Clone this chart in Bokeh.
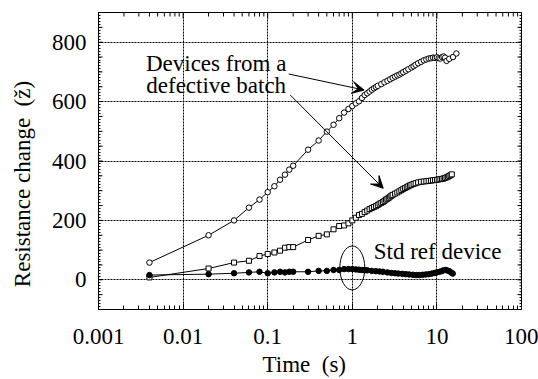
import math
from bokeh.plotting import figure
from bokeh.models import (FixedTicker, Label, Arrow, VeeHead, Range1d, CustomJSTickFormatter)
from bokeh.embed import file_html
from bokeh.resources import INLINE

# ---------------- data ----------------
# Devices from a defective batch: open circles
t_a = [0.004, 0.02, 0.04, 0.06, 0.08, 0.1, 0.12, 0.14, 0.16, 0.18, 0.2, 0.3, 0.4, 0.5,
       0.6, 0.7, 0.8, 0.9, 1.0, 1.1, 1.2, 1.3, 1.4, 1.5, 1.6, 1.7, 1.8, 1.9, 2.0, 2.2,
       2.4, 2.6, 2.8, 3.0, 3.2, 3.4, 3.6, 3.8, 4.0, 4.3, 4.6, 5.0, 5.3, 5.6, 6.0, 6.5,
       7.0, 7.5, 8.0, 8.5, 9.0, 9.5, 10, 10.5, 11, 11.5, 12, 12.5, 13, 14, 15.5, 17]
r_a = [58, 150, 200, 243, 270, 295, 315, 337, 354, 371, 384, 438, 469, 499,
       522, 544, 563, 575, 585, 594, 601, 612, 622, 628, 634, 640, 645, 649, 653, 659,
       665, 670, 675, 680, 684, 688, 691, 695, 699, 704, 709, 715, 719, 724, 729, 734,
       739, 742, 745, 746, 748, 747, 749, 746, 745, 750, 752, 748, 737, 744, 750, 762]

# Devices from a defective batch: open squares
t_b = [0.004, 0.02, 0.04, 0.06, 0.08, 0.1, 0.12, 0.14, 0.16, 0.18, 0.2, 0.3, 0.4, 0.5,
       0.6, 0.7, 0.8, 0.9, 1.0, 1.1, 1.2, 1.3, 1.4, 1.5, 1.6, 1.7, 1.8, 1.9, 2.0, 2.1,
       2.2, 2.3, 2.4, 2.5, 2.6, 2.7, 2.8, 2.9, 3.0, 3.2, 3.4, 3.6, 3.8, 4.0, 4.2, 4.4,
       4.6, 4.8, 5.0, 5.3, 5.6, 6.0, 6.5, 7.0, 7.5, 8.0, 8.5, 9.0, 9.5, 10, 10.5, 11,
       11.5, 12, 12.5, 13, 13.5, 14, 14.5, 15]
r_b = [8, 38, 58, 64, 80, 87, 92, 98, 108, 110, 110, 134, 148, 153,
       170, 181, 183, 190, 200, 209, 218, 222, 228, 233, 238, 242, 245, 248, 252, 256,
       259, 262, 266, 270, 273, 276, 280, 283, 286, 290, 294, 298, 302, 306, 309, 312,
       315, 318, 320, 323, 325, 328, 330, 331, 332, 333, 334, 335, 336, 337, 338, 339,
       340, 341, 343, 345, 347, 350, 352, 355]

# Std ref device: filled circles
t_c = [0.004, 0.02, 0.04, 0.06, 0.08, 0.1, 0.12, 0.14, 0.16, 0.18, 0.2, 0.3, 0.4, 0.5,
       0.6, 0.7, 0.8, 0.9, 1.0, 1.1, 1.2, 1.3, 1.4, 1.5, 1.7, 1.9, 2.1, 2.3, 2.6, 2.9,
       3.2, 3.5, 3.9, 4.3, 4.7, 5.2, 5.7, 6.2, 6.8, 7.4, 8.0, 8.7, 9.4, 10, 10.7, 11.4,
       12, 12.7, 13.4, 14, 14.7, 15.4]
r_c = [16, 19, 22, 25, 27, 22, 25, 27, 25, 27, 27, 27, 30, 30,
       33, 33, 36, 36, 36, 35, 34, 33, 32, 32, 30, 29, 28, 27, 25, 23,
       22, 21, 20, 19, 18, 17, 16, 16, 17, 18, 19, 21, 23, 25, 27, 29,
       32, 33, 31, 29, 25, 21]

x_major = [0.001, 0.01, 0.1, 1, 10, 100]
y_major = [0, 200, 400, 600, 800]
X0, X1, Y0, Y1 = 0.001, 100, -100, 900

FONT = "Liberation Serif"
FS = "23px"

p = figure(width=538, height=379, x_axis_type="log",
           x_range=Range1d(X0, X1), y_range=Range1d(Y0, Y1),
           output_backend="svg", toolbar_location=None,
           min_border_left=98, min_border_right=17, min_border_top=12, min_border_bottom=70)
p.background_fill_color = "white"
p.border_fill_color = "white"
p.outline_line_color = "black"
p.outline_line_width = 1

x_minor = [k * d for d in x_major[:-1] for k in range(2, 10)]
y_mid = list(range(Y0, Y1 + 1, 50))
y_minor = list(range(Y0, Y1 + 1, 10))

xt = FixedTicker(ticks=x_major, minor_ticks=x_minor)
yt = FixedTicker(ticks=y_major, minor_ticks=y_minor)


def style(ax):
    ax.axis_line_color = "black"
    ax.axis_line_width = 1
    ax.major_tick_line_color = "black"
    ax.minor_tick_line_color = "black"
    ax.major_tick_out = 0
    ax.minor_tick_out = 0
    ax.major_label_text_font = FONT
    ax.major_label_text_color = "black"
    ax.major_label_text_font_size = FS
    ax.axis_label_text_font = FONT
    ax.axis_label_text_font_style = "normal"
    ax.axis_label_text_color = "black"
    ax.axis_label_text_font_size = FS


xa = p.xaxis[0]
xa.ticker = xt
xa.formatter = CustomJSTickFormatter(code="return tick.toString();")
style(xa)
xa.major_tick_in = 6
xa.minor_tick_in = 4
xa.major_label_standoff = 19
xa.axis_label = "Time\u00a0\u00a0(s)\u00a0\u00a0"
xa.axis_label_standoff = 5

ya = p.yaxis[0]
ya.ticker = yt
style(ya)
ya.major_tick_in = 4
ya.minor_tick_in = 2
ya.major_label_standoff = 12
ya.axis_label = "Resistance change\u00a0\u00a0(\u017e)" + "\u00a0" * 8
ya.axis_label_standoff = 14

p.xgrid.ticker = FixedTicker(ticks=x_major)
p.ygrid.ticker = FixedTicker(ticks=y_major)
for g in (p.xgrid[0], p.ygrid[0]):
    g.grid_line_color = "black"
    g.grid_line_alpha = 1
    g.grid_line_width = 1
    g.grid_line_dash = "2 1"

# inner tick marks on the frame (mid ticks left/right, minor right, top ticks)
tick_kw = dict(length_units="screen", line_color="black", line_width=1)
p.ray(x=[X0] * len(y_mid), y=y_mid, length=4, angle=0, **tick_kw)
p.ray(x=[X1] * len(y_mid), y=y_mid, length=4, angle=math.pi, **tick_kw)
p.ray(x=[X1] * len(y_minor), y=y_minor, length=2, angle=math.pi, **tick_kw)
p.ray(x=x_major, y=[Y1] * len(x_major), length=6, angle=-math.pi / 2, **tick_kw)
p.ray(x=x_minor, y=[Y1] * len(x_minor), length=4, angle=-math.pi / 2, **tick_kw)

# series
p.line(t_a, r_a, line_color="black", line_width=1)
p.line(t_b, r_b, line_color="black", line_width=1)
p.line(t_c, r_c, line_color="black", line_width=1)
p.scatter(t_a, r_a, marker="circle", size=5.5, fill_color="white", line_color="black", line_width=1)
p.scatter(t_b, r_b, marker="square", size=5, fill_color="white", line_color="black", line_width=1)
p.scatter(t_c, r_c, marker="circle", size=5.5, fill_color="black", line_color="black", line_width=1)

# annotations
p.ellipse(x=[1], y=[40], width=25, height=44, width_units="screen", height_units="screen",
          fill_color=None, line_color="black", line_width=1)

p.add_layout(Arrow(end=VeeHead(size=12, fill_color="black", line_color="black", line_width=1),
                   x_start=0.177, y_start=693, x_end=1.38, y_end=639,
                   line_color="black", line_width=1))
p.add_layout(Arrow(end=VeeHead(size=12, fill_color="black", line_color="black", line_width=1),
                   x_start=0.185, y_start=622, x_end=2.32, y_end=308,
                   line_color="black", line_width=1))

for txt, yy in (("Devices from a", 727), ("defective batch", 653)):
    p.add_layout(Label(x=0.0246, y=yy, text=txt, text_align="center", text_baseline="alphabetic",
                       text_font=FONT, text_font_size=FS, text_color="black"))
p.add_layout(Label(x=10.2, y=95, text="Std ref device", text_align="center",
                   text_baseline="alphabetic", text_font=FONT, text_font_size=FS,
                   text_color="black"))

open("out.html", "w").write(file_html(p, INLINE))
